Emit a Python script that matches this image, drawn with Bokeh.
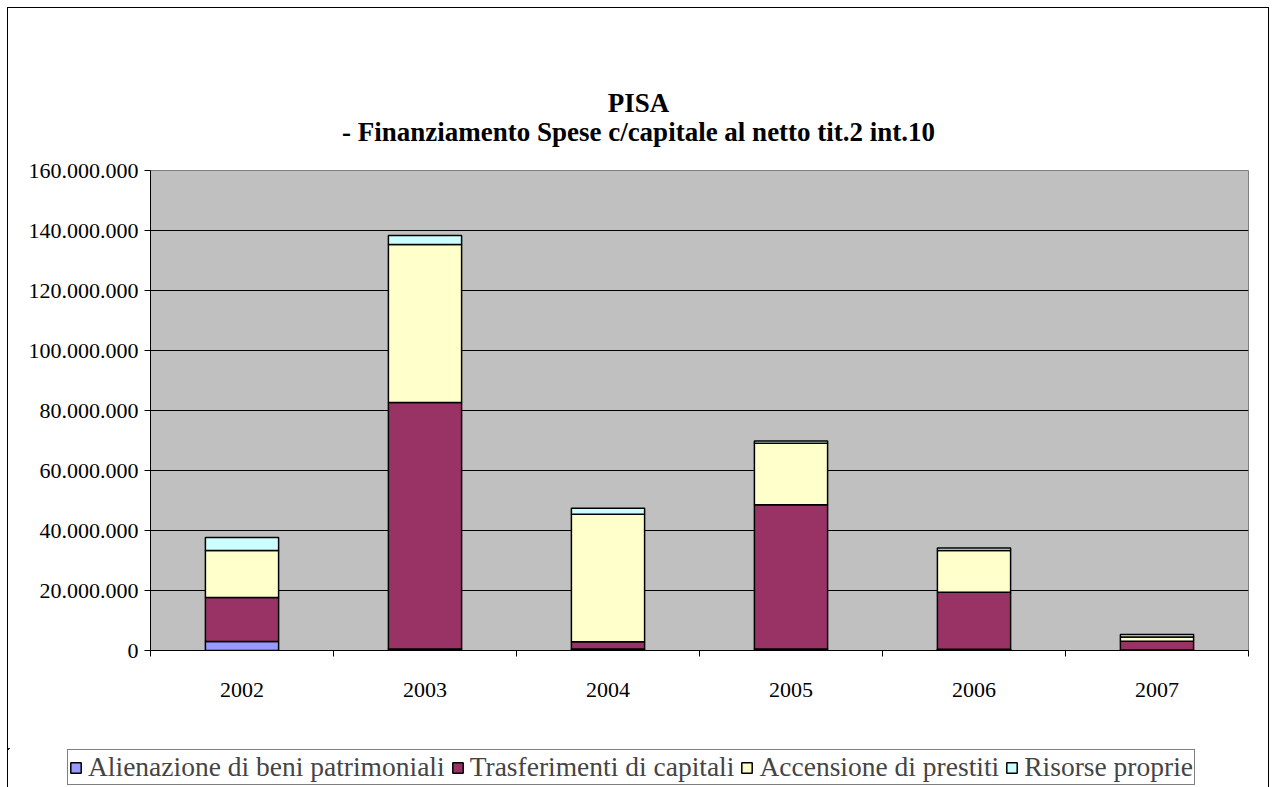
import numpy as np
from bokeh.plotting import figure
from bokeh.layouts import column, row
from bokeh.models import (Range1d, FixedTicker, CustomJSTickFormatter, Legend,
                          LegendItem, Label)
from bokeh.embed import file_html
from bokeh.resources import INLINE

years = ["2002", "2003", "2004", "2005", "2006", "2007"]
series_names = ["Alienazione di beni patrimoniali", "Trasferimenti di capitali",
                "Accensione di prestiti", "Risorse proprie"]
alienazione = [3.0e6, 0.5e6, 0.5e6, 0.5e6, 0.4e6, 0.2e6]
trasferimenti = [14.7e6, 82.2e6, 2.4e6, 48.1e6, 19.0e6, 2.9e6]
accensione = [15.6e6, 52.6e6, 42.5e6, 20.5e6, 13.9e6, 1.4e6]
risorse = [4.4e6, 3.0e6, 2.0e6, 0.7e6, 0.9e6, 0.8e6]
colors = ["#9999FF", "#993366", "#FFFFCC", "#CCFFFF"]
y_ticks = [0, 20e6, 40e6, 60e6, 80e6, 100e6, 120e6, 140e6, 160e6]
title_text = "PISA"
subtitle_text = "- Finanziamento Spese c/capitale al netto tit.2 int.10"

FONT = "Liberation Serif"
n = len(years)
xpos = np.arange(n) + 0.5
stack_keys = ["a", "t", "c", "r"]
data = dict(x=xpos, a=alienazione, t=trasferimenti, c=accensione, r=risorse)
W = 1260


def strip(height, x_range, y_range):
    f = figure(width=W, height=height, output_backend="svg",
               toolbar_location=None, x_range=x_range, y_range=y_range,
               min_border=0, min_border_left=0, min_border_right=0,
               min_border_top=0, min_border_bottom=0,
               x_axis_location=None, y_axis_location=None)
    f.outline_line_color = None
    f.background_fill_color = "white"
    f.border_fill_color = "white"
    f.xgrid.grid_line_color = None
    f.ygrid.grid_line_color = None
    return f


# ---------------- title strip ----------------
TH = 140
t = strip(TH, Range1d(0, W), Range1d(TH, 0))
t.add_layout(Label(x=630, y=94, text=title_text, text_font=FONT,
                   text_font_size="27px", text_font_style="bold",
                   text_align="center", text_baseline="middle",
                   text_color="black"))
t.add_layout(Label(x=630, y=123, text=subtitle_text, text_font=FONT,
                   text_font_size="27px", text_font_style="bold",
                   text_align="center", text_baseline="middle",
                   text_color="black"))

# ---------------- main chart ----------------
p = figure(width=W, height=740 - TH, output_backend="svg",
           toolbar_location=None,
           x_range=Range1d(0, n), y_range=Range1d(0, 160e6),
           min_border_left=142, min_border_right=20, min_border_top=162 - TH,
           min_border_bottom=98)
p.background_fill_color = "#C0C0C0"
p.border_fill_color = "white"
p.outline_line_color = "#808080"
p.outline_line_width = 1

p.vbar_stack(stack_keys, x="x", width=0.4, source=data,
             fill_color=colors, line_color="black", line_width=1.5)

p.yaxis.ticker = FixedTicker(ticks=y_ticks)
p.yaxis.formatter = CustomJSTickFormatter(code="""
return Math.round(tick).toFixed(0).replace(/\\B(?=(\\d{3})+(?!\\d))/g, '.');
""")
p.yaxis.major_label_text_font = FONT
p.yaxis.major_label_text_font_size = "22px"
p.yaxis.major_label_text_color = "black"
p.yaxis.major_tick_out = 6
p.yaxis.major_tick_in = 0
p.yaxis.minor_tick_out = 0
p.yaxis.minor_tick_in = 0
p.yaxis.axis_line_color = "black"
p.yaxis.major_tick_line_color = "black"
p.yaxis.major_label_standoff = 6

p.xaxis.ticker = FixedTicker(ticks=list(xpos), minor_ticks=list(range(n + 1)))
p.xaxis.major_label_overrides = {float(x): y for x, y in zip(xpos, years)}
p.xaxis.major_label_text_font = FONT
p.xaxis.major_label_text_font_size = "22px"
p.xaxis.major_label_text_color = "black"
p.xaxis.major_tick_out = 0
p.xaxis.major_tick_in = 0
p.xaxis.minor_tick_out = 6
p.xaxis.minor_tick_in = 0
p.xaxis.minor_tick_line_color = "black"
p.xaxis.axis_line_color = "black"
p.xaxis.major_label_standoff = 26

p.xgrid.grid_line_color = None
p.ygrid.grid_line_color = "black"
p.ygrid.grid_line_width = 1

# ---------------- legend strip ----------------
q = strip(39, Range1d(100, 101), Range1d(-2, -1))
leg_renderers = q.vbar_stack(stack_keys, x="x", width=0.4, source=data,
                             fill_color=colors, line_color="black",
                             line_width=1.5)

legend = Legend(items=[LegendItem(label=nm, renderers=[r])
                       for nm, r in zip(series_names, leg_renderers)],
                orientation="horizontal", location=(59, 2),
                label_text_font=FONT, label_text_font_size="27.5px",
                label_height=20, glyph_width=13, glyph_height=13,
                label_standoff=6, spacing=6, padding=1, margin=0,
                border_line_color="black", border_line_width=1,
                background_fill_color="white", background_fill_alpha=1)
q.add_layout(legend, "center")

layout = column(row(t), p, row(q), spacing=0,
                styles={"margin": "7px 0 0 7px", "border": "1px solid black",
                        "border-bottom": "none"})

open("out.html", "w").write(file_html(layout, INLINE))
